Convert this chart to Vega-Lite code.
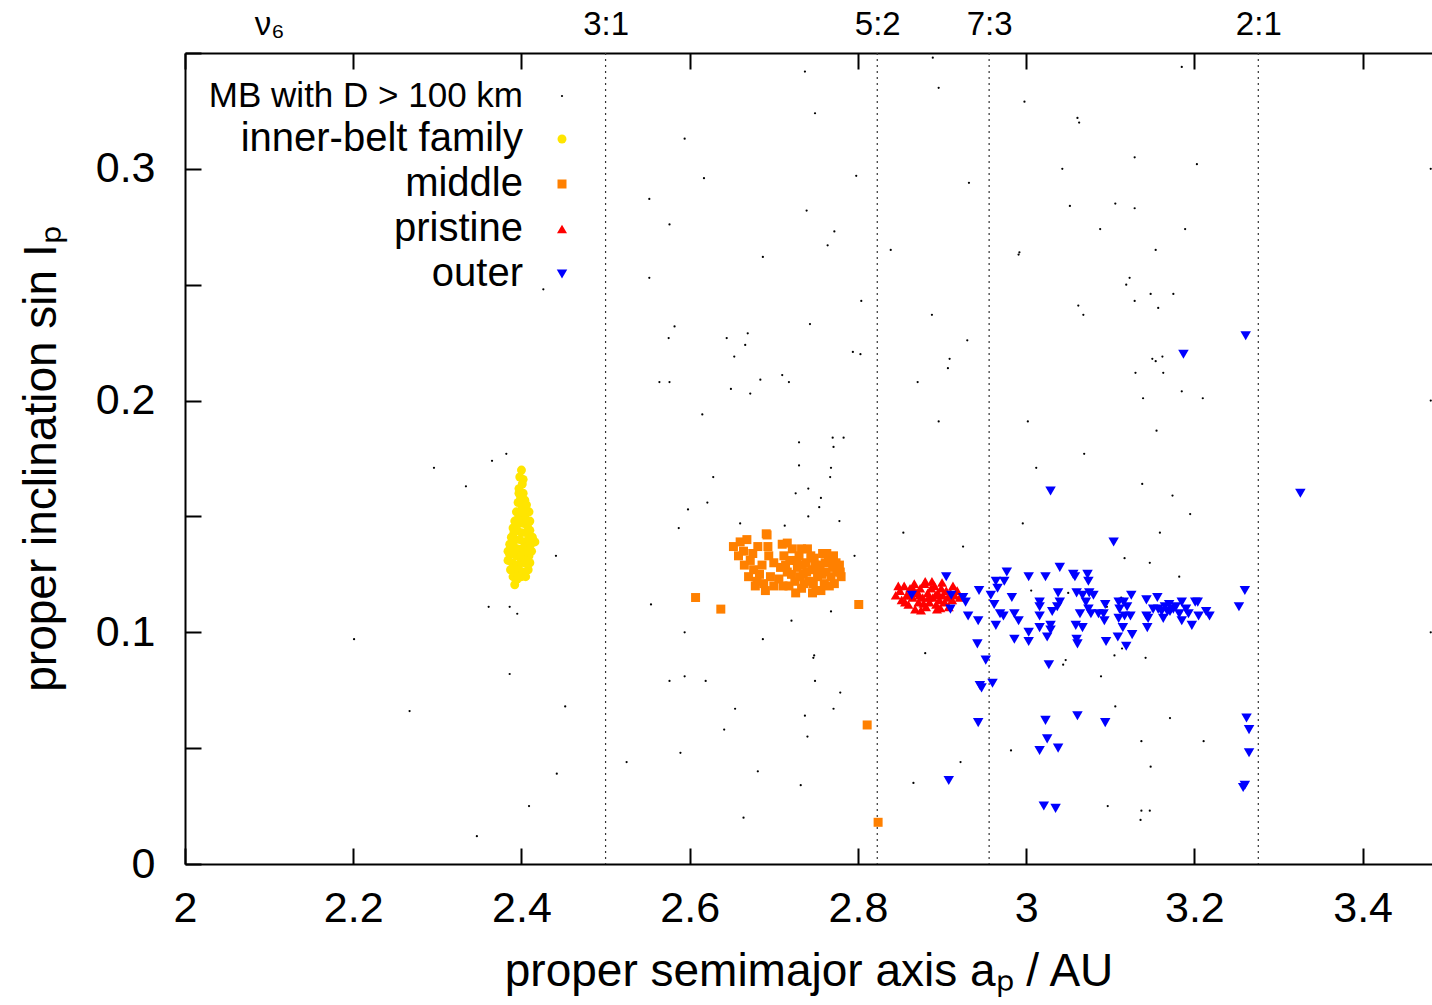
{
"$schema":"https://vega.github.io/schema/vega-lite/v6.json",
"width":1247,"height":811,
"autosize":{"type":"none"},
"padding":{"left":185,"top":53,"right":0,"bottom":141},
"background":"white",
"config":{"view":{"stroke":null},"font":"Liberation Sans",
 "axis":{"grid":false,"domainColor":"black","domainWidth":2,"tickColor":"black","tickWidth":2,"labelColor":"black","titleColor":"black","labelFont":"Liberation Sans","titleFont":"Liberation Sans","titleFontWeight":"normal"}},
"datasets":{
"res":[{"a":2.5},{"a":2.823},{"a":2.956},{"a":3.276}],
"pts":[
{"a":2.737,"s":0.342,"g":"MB"},{"a":2.749,"s":0.324,"g":"MB"},{"a":2.594,"s":0.313,"g":"MB"},{"a":2.617,"s":0.296,"g":"MB"},{"a":2.798,"s":0.297,"g":"MB"},{"a":2.552,"s":0.287,"g":"MB"},{"a":2.576,"s":0.276,"g":"MB"},{"a":2.739,"s":0.282,"g":"MB"},{"a":2.772,"s":0.273,"g":"MB"},{"a":2.764,"s":0.267,"g":"MB"},{"a":2.687,"s":0.262,"g":"MB"},{"a":2.552,"s":0.253,"g":"MB"},{"a":2.804,"s":0.243,"g":"MB"},{"a":2.582,"s":0.232,"g":"MB"},{"a":2.575,"s":0.227,"g":"MB"},{"a":2.743,"s":0.233,"g":"MB"},{"a":2.669,"s":0.229,"g":"MB"},{"a":2.644,"s":0.227,"g":"MB"},{"a":2.666,"s":0.224,"g":"MB"},{"a":2.653,"s":0.219,"g":"MB"},{"a":2.794,"s":0.221,"g":"MB"},{"a":2.803,"s":0.220,"g":"MB"},{"a":2.564,"s":0.208,"g":"MB"},{"a":2.576,"s":0.208,"g":"MB"},{"a":2.684,"s":0.209,"g":"MB"},{"a":2.710,"s":0.211,"g":"MB"},{"a":2.718,"s":0.208,"g":"MB"},{"a":2.649,"s":0.205,"g":"MB"},{"a":2.672,"s":0.203,"g":"MB"},{"a":2.615,"s":0.194,"g":"MB"},{"a":2.730,"s":0.182,"g":"MB"},{"a":2.770,"s":0.184,"g":"MB"},{"a":2.783,"s":0.184,"g":"MB"},{"a":2.771,"s":0.180,"g":"MB"},{"a":2.730,"s":0.172,"g":"MB"},{"a":2.768,"s":0.171,"g":"MB"},{"a":2.889,"s":0.348,"g":"MB"},{"a":2.896,"s":0.335,"g":"MB"},{"a":2.932,"s":0.294,"g":"MB"},{"a":2.839,"s":0.265,"g":"MB"},{"a":2.991,"s":0.263,"g":"MB"},{"a":2.888,"s":0.237,"g":"MB"},{"a":2.930,"s":0.226,"g":"MB"},{"a":2.909,"s":0.218,"g":"MB"},{"a":2.907,"s":0.214,"g":"MB"},{"a":2.871,"s":0.208,"g":"MB"},{"a":2.896,"s":0.191,"g":"MB"},
{"a":2.998,"s":0.329,"g":"MB"},{"a":3.061,"s":0.322,"g":"MB"},{"a":3.063,"s":0.320,"g":"MB"},{"a":3.129,"s":0.305,"g":"MB"},{"a":3.203,"s":0.302,"g":"MB"},{"a":3.043,"s":0.300,"g":"MB"},{"a":3.481,"s":0.300,"g":"MB"},{"a":3.052,"s":0.284,"g":"MB"},{"a":3.106,"s":0.285,"g":"MB"},{"a":3.129,"s":0.283,"g":"MB"},{"a":3.088,"s":0.274,"g":"MB"},{"a":3.189,"s":0.274,"g":"MB"},{"a":2.992,"s":0.264,"g":"MB"},{"a":3.154,"s":0.265,"g":"MB"},{"a":3.123,"s":0.253,"g":"MB"},{"a":3.119,"s":0.250,"g":"MB"},{"a":3.148,"s":0.246,"g":"MB"},{"a":3.175,"s":0.246,"g":"MB"},{"a":3.129,"s":0.243,"g":"MB"},{"a":3.157,"s":0.240,"g":"MB"},{"a":3.062,"s":0.241,"g":"MB"},{"a":3.068,"s":0.237,"g":"MB"},{"a":3.150,"s":0.218,"g":"MB"},{"a":3.154,"s":0.217,"g":"MB"},{"a":3.162,"s":0.219,"g":"MB"},{"a":3.130,"s":0.212,"g":"MB"},{"a":3.163,"s":0.212,"g":"MB"},{"a":3.185,"s":0.204,"g":"MB"},{"a":3.139,"s":0.201,"g":"MB"},{"a":3.210,"s":0.201,"g":"MB"},{"a":3.002,"s":0.191,"g":"MB"},{"a":3.155,"s":0.187,"g":"MB"},{"a":3.481,"s":0.200,"g":"MB"},{"a":3.069,"s":0.177,"g":"MB"},{"a":3.012,"s":0.171,"g":"MB"},{"a":3.185,"s":0.344,"g":"MB"},
{"a":2.426,"s":0.248,"g":"MB"},{"a":2.365,"s":0.174,"g":"MB"},{"a":2.382,"s":0.177,"g":"MB"},{"a":2.296,"s":0.171,"g":"MB"},
{"a":2.334,"s":0.163,"g":"MB"},{"a":2.441,"s":0.133,"g":"MB"},{"a":2.402,"s":0.123,"g":"MB"},{"a":2.361,"s":0.111,"g":"MB"},{"a":2.386,"s":0.111,"g":"MB"},{"a":2.395,"s":0.108,"g":"MB"},{"a":2.201,"s":0.097,"g":"MB"},{"a":2.386,"s":0.082,"g":"MB"},{"a":2.267,"s":0.066,"g":"MB"},{"a":2.452,"s":0.068,"g":"MB"},{"a":2.442,"s":0.039,"g":"MB"},{"a":2.409,"s":0.025,"g":"MB"},{"a":2.347,"s":0.012,"g":"MB"},{"a":2.525,"s":0.044,"g":"MB"},{"a":2.589,"s":0.048,"g":"MB"},{"a":2.576,"s":0.079,"g":"MB"},{"a":2.594,"s":0.081,"g":"MB"},{"a":2.619,"s":0.079,"g":"MB"},{"a":2.594,"s":0.100,"g":"MB"},{"a":2.554,"s":0.112,"g":"MB"},{"a":2.654,"s":0.067,"g":"MB"},{"a":2.641,"s":0.058,"g":"MB"},{"a":2.681,"s":0.040,"g":"MB"},{"a":2.664,"s":0.020,"g":"MB"},{"a":2.687,"s":0.097,"g":"MB"},{"a":2.721,"s":0.105,"g":"MB"},{"a":2.748,"s":0.090,"g":"MB"},{"a":2.747,"s":0.089,"g":"MB"},{"a":2.749,"s":0.079,"g":"MB"},{"a":2.779,"s":0.074,"g":"MB"},{"a":2.771,"s":0.067,"g":"MB"},{"a":2.737,"s":0.064,"g":"MB"},{"a":2.740,"s":0.055,"g":"MB"},{"a":2.732,"s":0.034,"g":"MB"},{"a":2.768,"s":0.109,"g":"MB"},{"a":2.767,"s":0.167,"g":"MB"},{"a":2.628,"s":0.167,"g":"MB"},{"a":2.726,"s":0.160,"g":"MB"},{"a":2.741,"s":0.162,"g":"MB"},{"a":2.756,"s":0.158,"g":"MB"},{"a":2.621,"s":0.156,"g":"MB"},{"a":2.598,"s":0.153,"g":"MB"},{"a":2.754,"s":0.154,"g":"MB"},{"a":2.741,"s":0.150,"g":"MB"},{"a":2.778,"s":0.148,"g":"MB"},{"a":2.587,"s":0.145,"g":"MB"},{"a":2.660,"s":0.147,"g":"MB"},{"a":2.713,"s":0.146,"g":"MB"},{"a":2.796,"s":0.133,"g":"MB"},
{"a":2.854,"s":0.143,"g":"MB"},{"a":2.925,"s":0.137,"g":"MB"},{"a":2.996,"s":0.147,"g":"MB"},{"a":3.159,"s":0.143,"g":"MB"},{"a":3.117,"s":0.132,"g":"MB"},{"a":3.147,"s":0.130,"g":"MB"},{"a":3.182,"s":0.124,"g":"MB"},{"a":3.006,"s":0.118,"g":"MB"},{"a":3.050,"s":0.117,"g":"MB"},{"a":3.096,"s":0.111,"g":"MB"},{"a":2.880,"s":0.091,"g":"MB"},{"a":3.047,"s":0.088,"g":"MB"},{"a":3.044,"s":0.086,"g":"MB"},{"a":3.105,"s":0.090,"g":"MB"},{"a":3.142,"s":0.089,"g":"MB"},{"a":3.089,"s":0.081,"g":"MB"},{"a":3.106,"s":0.068,"g":"MB"},{"a":3.171,"s":0.063,"g":"MB"},{"a":3.137,"s":0.053,"g":"MB"},{"a":3.211,"s":0.053,"g":"MB"},{"a":2.982,"s":0.049,"g":"MB"},{"a":2.922,"s":0.044,"g":"MB"},{"a":3.148,"s":0.042,"g":"MB"},{"a":2.866,"s":0.035,"g":"MB"},{"a":3.097,"s":0.025,"g":"MB"},{"a":3.137,"s":0.023,"g":"MB"},{"a":3.147,"s":0.023,"g":"MB"},{"a":3.136,"s":0.019,"g":"MB"},{"a":3.138,"s":0.164,"g":"MB"},{"a":3.174,"s":0.159,"g":"MB"},{"a":3.195,"s":0.151,"g":"MB"},{"a":3.113,"s":0.115,"g":"MB"},{"a":3.481,"s":0.100,"g":"MB"},{"a":3.114,"s":0.093,"g":"MB"},
{"a":2.400,"s":0.170,"g":"inner"},{"a":2.398,"s":0.167,"g":"inner"},{"a":2.401,"s":0.164,"g":"inner"},{"a":2.397,"s":0.162,"g":"inner"},{"a":2.402,"s":0.160,"g":"inner"},{"a":2.399,"s":0.158,"g":"inner"},{"a":2.404,"s":0.157,"g":"inner"},{"a":2.396,"s":0.156,"g":"inner"},{"a":2.401,"s":0.154,"g":"inner"},{"a":2.406,"s":0.155,"g":"inner"},{"a":2.394,"s":0.152,"g":"inner"},{"a":2.399,"s":0.151,"g":"inner"},{"a":2.404,"s":0.150,"g":"inner"},{"a":2.409,"s":0.152,"g":"inner"},{"a":2.392,"s":0.148,"g":"inner"},{"a":2.397,"s":0.147,"g":"inner"},{"a":2.402,"s":0.147,"g":"inner"},{"a":2.407,"s":0.146,"g":"inner"},{"a":2.410,"s":0.148,"g":"inner"},{"a":2.390,"s":0.145,"g":"inner"},{"a":2.395,"s":0.144,"g":"inner"},{"a":2.400,"s":0.143,"g":"inner"},{"a":2.405,"s":0.143,"g":"inner"},{"a":2.410,"s":0.144,"g":"inner"},{"a":2.388,"s":0.141,"g":"inner"},{"a":2.393,"s":0.140,"g":"inner"},{"a":2.398,"s":0.140,"g":"inner"},{"a":2.403,"s":0.139,"g":"inner"},{"a":2.408,"s":0.140,"g":"inner"},{"a":2.413,"s":0.141,"g":"inner"},{"a":2.386,"s":0.138,"g":"inner"},{"a":2.391,"s":0.137,"g":"inner"},{"a":2.396,"s":0.136,"g":"inner"},{"a":2.401,"s":0.136,"g":"inner"},{"a":2.406,"s":0.137,"g":"inner"},{"a":2.411,"s":0.138,"g":"inner"},{"a":2.416,"s":0.139,"g":"inner"},{"a":2.384,"s":0.135,"g":"inner"},{"a":2.389,"s":0.134,"g":"inner"},{"a":2.394,"s":0.133,"g":"inner"},{"a":2.399,"s":0.133,"g":"inner"},{"a":2.404,"s":0.134,"g":"inner"},{"a":2.409,"s":0.133,"g":"inner"},{"a":2.384,"s":0.131,"g":"inner"},{"a":2.389,"s":0.130,"g":"inner"},{"a":2.394,"s":0.129,"g":"inner"},{"a":2.399,"s":0.130,"g":"inner"},{"a":2.404,"s":0.130,"g":"inner"},{"a":2.410,"s":0.130,"g":"inner"},{"a":2.387,"s":0.127,"g":"inner"},{"a":2.392,"s":0.126,"g":"inner"},{"a":2.397,"s":0.127,"g":"inner"},{"a":2.402,"s":0.126,"g":"inner"},{"a":2.408,"s":0.127,"g":"inner"},{"a":2.390,"s":0.124,"g":"inner"},{"a":2.395,"s":0.123,"g":"inner"},{"a":2.400,"s":0.124,"g":"inner"},{"a":2.405,"s":0.124,"g":"inner"},{"a":2.392,"s":0.1205,"g":"inner"},{"a":2.397,"s":0.160,"g":"inner"},{"a":2.402,"s":0.166,"g":"inner"},{"a":2.396,"s":0.149,"g":"inner"},{"a":2.404,"s":0.153,"g":"inner"},{"a":2.391,"s":0.143,"g":"inner"},{"a":2.407,"s":0.131,"g":"inner"},{"a":2.386,"s":0.1335,"g":"inner"},{"a":2.412,"s":0.135,"g":"inner"},
{"a":2.652,"s":0.137,"g":"middle"},{"a":2.660,"s":0.139,"g":"middle"},{"a":2.668,"s":0.140,"g":"middle"},{"a":2.664,"s":0.135,"g":"middle"},{"a":2.658,"s":0.133,"g":"middle"},{"a":2.672,"s":0.131,"g":"middle"},{"a":2.665,"s":0.129,"g":"middle"},{"a":2.676,"s":0.127,"g":"middle"},{"a":2.683,"s":0.125,"g":"middle"},{"a":2.680,"s":0.122,"g":"middle"},{"a":2.688,"s":0.121,"g":"middle"},{"a":2.686,"s":0.129,"g":"middle"},{"a":2.692,"s":0.142,"g":"middle"},{"a":2.693,"s":0.137,"g":"middle"},{"a":2.694,"s":0.133,"g":"middle"},{"a":2.700,"s":0.130,"g":"middle"},{"a":2.696,"s":0.124,"g":"middle"},{"a":2.700,"s":0.120,"g":"middle"},{"a":2.690,"s":0.118,"g":"middle"},{"a":2.675,"s":0.134,"g":"middle"},{"a":2.681,"s":0.137,"g":"middle"},{"a":2.670,"s":0.124,"g":"middle"},{"a":2.678,"s":0.120,"g":"middle"},
{"a":2.710,"s":0.138,"g":"middle"},{"a":2.712,"s":0.133,"g":"middle"},{"a":2.708,"s":0.128,"g":"middle"},{"a":2.706,"s":0.123,"g":"middle"},{"a":2.711,"s":0.120,"g":"middle"},{"a":2.716,"s":0.126,"g":"middle"},{"a":2.719,"s":0.131,"g":"middle"},{"a":2.722,"s":0.136,"g":"middle"},{"a":2.725,"s":0.122,"g":"middle"},{"a":2.728,"s":0.128,"g":"middle"},{"a":2.730,"s":0.133,"g":"middle"},{"a":2.733,"s":0.119,"g":"middle"},{"a":2.735,"s":0.125,"g":"middle"},{"a":2.738,"s":0.130,"g":"middle"},{"a":2.740,"s":0.136,"g":"middle"},{"a":2.742,"s":0.122,"g":"middle"},{"a":2.745,"s":0.127,"g":"middle"},{"a":2.748,"s":0.132,"g":"middle"},{"a":2.750,"s":0.118,"g":"middle"},{"a":2.752,"s":0.124,"g":"middle"},{"a":2.755,"s":0.129,"g":"middle"},{"a":2.758,"s":0.134,"g":"middle"},{"a":2.760,"s":0.121,"g":"middle"},{"a":2.762,"s":0.126,"g":"middle"},{"a":2.765,"s":0.131,"g":"middle"},{"a":2.768,"s":0.124,"g":"middle"},{"a":2.770,"s":0.128,"g":"middle"},{"a":2.772,"s":0.121,"g":"middle"},{"a":2.775,"s":0.126,"g":"middle"},{"a":2.778,"s":0.129,"g":"middle"},{"a":2.780,"s":0.124,"g":"middle"},{"a":2.756,"s":0.118,"g":"middle"},{"a":2.746,"s":0.117,"g":"middle"},{"a":2.726,"s":0.117,"g":"middle"},{"a":2.718,"s":0.120,"g":"middle"},{"a":2.731,"s":0.124,"g":"middle"},{"a":2.739,"s":0.126,"g":"middle"},{"a":2.747,"s":0.121,"g":"middle"},{"a":2.753,"s":0.127,"g":"middle"},{"a":2.761,"s":0.130,"g":"middle"},{"a":2.744,"s":0.133,"g":"middle"},{"a":2.727,"s":0.131,"g":"middle"},{"a":2.714,"s":0.129,"g":"middle"},{"a":2.721,"s":0.125,"g":"middle"},{"a":2.734,"s":0.129,"g":"middle"},{"a":2.757,"s":0.125,"g":"middle"},{"a":2.766,"s":0.120,"g":"middle"},{"a":2.774,"s":0.130,"g":"middle"},{"a":2.736,"s":0.121,"g":"middle"},{"a":2.749,"s":0.129,"g":"middle"},{"a":2.763,"s":0.134,"g":"middle"},{"a":2.733,"s":0.136,"g":"middle"},{"a":2.771,"s":0.133,"g":"middle"},{"a":2.779,"s":0.126,"g":"middle"},{"a":2.691,"s":0.1425,"g":"middle"},{"a":2.716,"s":0.1385,"g":"middle"},
{"a":2.607,"s":0.115,"g":"middle"},{"a":2.637,"s":0.110,"g":"middle"},{"a":2.801,"s":0.112,"g":"middle"},{"a":2.811,"s":0.060,"g":"middle"},{"a":2.824,"s":0.018,"g":"middle"},
{"a":2.845,"s":0.116,"g":"pristine"},{"a":2.850,"s":0.118,"g":"pristine"},{"a":2.852,"s":0.114,"g":"pristine"},{"a":2.855,"s":0.120,"g":"pristine"},{"a":2.858,"s":0.116,"g":"pristine"},{"a":2.860,"s":0.112,"g":"pristine"},{"a":2.862,"s":0.119,"g":"pristine"},{"a":2.865,"s":0.115,"g":"pristine"},{"a":2.867,"s":0.121,"g":"pristine"},{"a":2.870,"s":0.117,"g":"pristine"},{"a":2.872,"s":0.113,"g":"pristine"},{"a":2.874,"s":0.119,"g":"pristine"},{"a":2.877,"s":0.115,"g":"pristine"},{"a":2.879,"s":0.121,"g":"pristine"},{"a":2.881,"s":0.111,"g":"pristine"},{"a":2.883,"s":0.117,"g":"pristine"},{"a":2.885,"s":0.113,"g":"pristine"},{"a":2.887,"s":0.119,"g":"pristine"},{"a":2.889,"s":0.115,"g":"pristine"},{"a":2.891,"s":0.120,"g":"pristine"},{"a":2.893,"s":0.112,"g":"pristine"},{"a":2.895,"s":0.117,"g":"pristine"},{"a":2.897,"s":0.114,"g":"pristine"},{"a":2.899,"s":0.119,"g":"pristine"},{"a":2.901,"s":0.116,"g":"pristine"},{"a":2.903,"s":0.113,"g":"pristine"},{"a":2.905,"s":0.118,"g":"pristine"},{"a":2.907,"s":0.115,"g":"pristine"},{"a":2.910,"s":0.117,"g":"pristine"},{"a":2.912,"s":0.114,"g":"pristine"},{"a":2.915,"s":0.116,"g":"pristine"},{"a":2.918,"s":0.118,"g":"pristine"},{"a":2.921,"s":0.115,"g":"pristine"},{"a":2.868,"s":0.110,"g":"pristine"},{"a":2.875,"s":0.1095,"g":"pristine"},{"a":2.880,"s":0.122,"g":"pristine"},{"a":2.862,"s":0.116,"g":"pristine"},{"a":2.856,"s":0.113,"g":"pristine"},{"a":2.848,"s":0.120,"g":"pristine"},{"a":2.894,"s":0.110,"g":"pristine"},{"a":2.888,"s":0.122,"g":"pristine"},{"a":2.900,"s":0.1215,"g":"pristine"},{"a":2.908,"s":0.111,"g":"pristine"},{"a":2.873,"s":0.116,"g":"pristine"},{"a":2.884,"s":0.115,"g":"pristine"},{"a":2.892,"s":0.116,"g":"pristine"},{"a":2.898,"s":0.1105,"g":"pristine"},{"a":2.913,"s":0.120,"g":"pristine"},{"a":2.866,"s":0.1185,"g":"pristine"},{"a":2.878,"s":0.1125,"g":"pristine"},
{"a":2.905,"s":0.124,"g":"outer"},{"a":2.864,"s":0.116,"g":"outer"},{"a":2.911,"s":0.116,"g":"outer"},{"a":2.910,"s":0.110,"g":"outer"},{"a":2.925,"s":0.115,"g":"outer"},{"a":2.928,"s":0.113,"g":"outer"},{"a":2.944,"s":0.118,"g":"outer"},{"a":2.931,"s":0.107,"g":"outer"},{"a":2.943,"s":0.105,"g":"outer"},{"a":2.958,"s":0.116,"g":"outer"},{"a":2.964,"s":0.122,"g":"outer"},{"a":2.966,"s":0.119,"g":"outer"},{"a":2.974,"s":0.122,"g":"outer"},{"a":2.977,"s":0.126,"g":"outer"},{"a":2.962,"s":0.112,"g":"outer"},{"a":2.969,"s":0.108,"g":"outer"},{"a":2.973,"s":0.107,"g":"outer"},{"a":2.964,"s":0.103,"g":"outer"},{"a":2.983,"s":0.115,"g":"outer"},{"a":2.986,"s":0.108,"g":"outer"},{"a":2.991,"s":0.105,"g":"outer"},{"a":3.003,"s":0.124,"g":"outer"},{"a":3.023,"s":0.124,"g":"outer"},{"a":3.040,"s":0.128,"g":"outer"},{"a":3.056,"s":0.125,"g":"outer"},{"a":3.058,"s":0.124,"g":"outer"},{"a":3.073,"s":0.125,"g":"outer"},{"a":3.074,"s":0.122,"g":"outer"},{"a":3.038,"s":0.117,"g":"outer"},{"a":3.040,"s":0.113,"g":"outer"},{"a":3.037,"s":0.111,"g":"outer"},{"a":3.016,"s":0.113,"g":"outer"},{"a":3.016,"s":0.111,"g":"outer"},{"a":3.031,"s":0.109,"g":"outer"},{"a":3.016,"s":0.107,"g":"outer"},{"a":3.016,"s":0.102,"g":"outer"},{"a":3.029,"s":0.103,"g":"outer"},{"a":3.029,"s":0.101,"g":"outer"},{"a":3.025,"s":0.098,"g":"outer"},{"a":3.003,"s":0.100,"g":"outer"},{"a":3.003,"s":0.096,"g":"outer"},{"a":2.986,"s":0.097,"g":"outer"},{"a":3.060,"s":0.117,"g":"outer"},{"a":3.067,"s":0.116,"g":"outer"},{"a":3.075,"s":0.117,"g":"outer"},{"a":3.080,"s":0.116,"g":"outer"},{"a":3.071,"s":0.113,"g":"outer"},{"a":3.064,"s":0.108,"g":"outer"},{"a":3.074,"s":0.110,"g":"outer"},{"a":3.077,"s":0.108,"g":"outer"},{"a":3.086,"s":0.108,"g":"outer"},{"a":3.092,"s":0.108,"g":"outer"},{"a":3.093,"s":0.105,"g":"outer"},{"a":3.094,"s":0.112,"g":"outer"},{"a":3.059,"s":0.103,"g":"outer"},{"a":3.067,"s":0.102,"g":"outer"},{"a":3.060,"s":0.097,"g":"outer"},{"a":3.061,"s":0.095,"g":"outer"},{"a":3.095,"s":0.096,"g":"outer"},{"a":3.110,"s":0.113,"g":"outer"},{"a":3.111,"s":0.110,"g":"outer"},{"a":3.116,"s":0.113,"g":"outer"},{"a":3.120,"s":0.111,"g":"outer"},{"a":3.110,"s":0.106,"g":"outer"},{"a":3.117,"s":0.107,"g":"outer"},{"a":3.124,"s":0.107,"g":"outer"},{"a":3.125,"s":0.116,"g":"outer"},{"a":3.115,"s":0.102,"g":"outer"},{"a":3.109,"s":0.098,"g":"outer"},{"a":3.126,"s":0.099,"g":"outer"},{"a":3.119,"s":0.094,"g":"outer"},{"a":3.143,"s":0.114,"g":"outer"},{"a":3.156,"s":0.115,"g":"outer"},{"a":3.143,"s":0.107,"g":"outer"},{"a":3.145,"s":0.106,"g":"outer"},{"a":3.144,"s":0.102,"g":"outer"},{"a":3.151,"s":0.110,"g":"outer"},{"a":3.157,"s":0.110,"g":"outer"},{"a":3.161,"s":0.109,"g":"outer"},{"a":3.163,"s":0.106,"g":"outer"},{"a":3.170,"s":0.112,"g":"outer"},{"a":3.171,"s":0.109,"g":"outer"},{"a":3.185,"s":0.113,"g":"outer"},{"a":3.182,"s":0.108,"g":"outer"},{"a":3.185,"s":0.105,"g":"outer"},{"a":3.193,"s":0.108,"g":"outer"},{"a":3.197,"s":0.103,"g":"outer"},{"a":3.201,"s":0.113,"g":"outer"},{"a":3.204,"s":0.113,"g":"outer"},{"a":3.205,"s":0.107,"g":"outer"},{"a":3.214,"s":0.109,"g":"outer"},{"a":3.218,"s":0.107,"g":"outer"},{"a":3.165,"s":0.111,"g":"outer"},{"a":3.175,"s":0.110,"g":"outer"},{"a":3.178,"s":0.111,"g":"outer"},{"a":3.168,"s":0.109,"g":"outer"},{"a":3.190,"s":0.110,"g":"outer"},{"a":3.260,"s":0.118,"g":"outer"},{"a":3.253,"s":0.111,"g":"outer"},{"a":3.104,"s":0.139,"g":"outer"},{"a":3.027,"s":0.086,"g":"outer"},{"a":2.952,"s":0.088,"g":"outer"},{"a":2.942,"s":0.095,"g":"outer"},{"a":2.945,"s":0.077,"g":"outer"},{"a":2.947,"s":0.076,"g":"outer"},{"a":2.960,"s":0.078,"g":"outer"},{"a":2.943,"s":0.061,"g":"outer"},{"a":3.023,"s":0.062,"g":"outer"},{"a":3.061,"s":0.064,"g":"outer"},{"a":3.094,"s":0.061,"g":"outer"},{"a":3.025,"s":0.054,"g":"outer"},{"a":3.038,"s":0.050,"g":"outer"},{"a":3.016,"s":0.049,"g":"outer"},{"a":2.908,"s":0.036,"g":"outer"},{"a":3.021,"s":0.025,"g":"outer"},{"a":3.035,"s":0.024,"g":"outer"},{"a":3.262,"s":0.063,"g":"outer"},{"a":3.265,"s":0.058,"g":"outer"},{"a":3.265,"s":0.048,"g":"outer"},{"a":3.260,"s":0.034,"g":"outer"},{"a":3.258,"s":0.033,"g":"outer"},{"a":3.261,"s":0.228,"g":"outer"},{"a":3.187,"s":0.220,"g":"outer"},{"a":3.326,"s":0.160,"g":"outer"},{"a":3.029,"s":0.161,"g":"outer"}
]},
"layer":[
{"data":{"name":"res"},
 "mark":{"type":"rule","strokeDash":[2,4],"color":"#333333","strokeWidth":1.2},
 "encoding":{"x":{"field":"a","type":"quantitative","scale":{"domain":[2,3.4825],"nice":false,"zero":false},
  "axis":{"orient":"top","title":null,"values":[2,2.1,2.2,2.4,2.5,2.6,2.8,2.823,2.956,3,3.2,3.276,3.4],
   "tickSize":-16,
   "tickColor":{"condition":{"test":"indexof([2.1,2.5,2.823,2.956,3.276], datum.value) >= 0","value":"transparent"},"value":"black"},
   "labelExpr":"datum.value == 2.1 ? 'ν₆' : datum.value == 2.5 ? '3:1' : datum.value == 2.823 ? '5:2' : datum.value == 2.956 ? '7:3' : datum.value == 3.276 ? '2:1' : ''",
   "labelFontSize":33,"labelPadding":28,"labelOverlap":false,"labelFlush":false,"labelBound":false}}}},
{"data":{"name":"pts"},
 "mark":{"type":"point","filled":true,"opacity":1,"strokeWidth":0},
 "encoding":{
  "x":{"field":"a","type":"quantitative","scale":{"domain":[2,3.4825],"nice":false,"zero":false},
   "axis":{"orient":"bottom","values":[2,2.2,2.4,2.6,2.8,3,3.2,3.4],"format":".1~f","tickSize":-16,"labelFontSize":43,"labelPadding":39,"labelFlush":false,"labelOverlap":false,"labelBound":false,
    "title":"proper semimajor axis aₚ / AU","titleFontSize":46,"titleY":121,"titleBaseline":"alphabetic"}},
  "y":{"field":"s","type":"quantitative","scale":{"domain":[0,0.35],"nice":false,"zero":false},
   "axis":{"values":[0,0.05,0.1,0.15,0.2,0.25,0.3,0.35],"tickSize":-16,"labelFontSize":43,"labelPadding":46,"labelOverlap":false,"labelFlush":false,"labelBound":false,
    "labelExpr":"abs(datum.value*10 - round(datum.value*10)) < 0.000001 ? (datum.value == 0 ? '0' : format(datum.value, '.1f')) : ''",
    "title":"proper inclination sin Iₚ","titleFontSize":46,"titleX":-130,"titleY":405.5,"titleAngle":270,"titleBaseline":"alphabetic","titleAlign":"center"}},
  "color":{"field":"g","type":"nominal","scale":{"domain":["MB","inner","middle","pristine","outer"],"range":["#000000","#ffe500","#ff8000","#ff0000","#0000ff"]},
   "legend":{"title":null,"orient":"none","legendX":357,"legendY":23,"direction":"vertical","labelAlign":"right","labelOffset":-59,"labelFontSize":{"expr":"datum.value === 'MB' ? 35 : 40"},"labelFont":"Liberation Sans","labelColor":"black","labelLimit":2000,"rowPadding":5,"padding":0,"symbolSize":55,"symbolStrokeWidth":0,
    "labelExpr":"datum.value == 'MB' ? 'MB with D > 100 km' : datum.value == 'inner' ? 'inner-belt family' : datum.value",
    "encode":{"symbols":{"update":{"size":{"signal":"datum.value === 'MB' ? 4 : 55"}}}}}},
  "shape":{"field":"g","type":"nominal","scale":{"domain":["MB","inner","middle","pristine","outer"],"range":["circle","circle","square","triangle-up","triangle-down"]},
   "legend":{"title":null,"orient":"none","legendX":357,"legendY":23,"direction":"vertical","labelAlign":"right","labelOffset":-59,"labelFontSize":{"expr":"datum.value === 'MB' ? 35 : 40"},"labelFont":"Liberation Sans","labelColor":"black","labelLimit":2000,"rowPadding":5,"padding":0,"symbolSize":55,"symbolStrokeWidth":0,
    "labelExpr":"datum.value == 'MB' ? 'MB with D > 100 km' : datum.value == 'inner' ? 'inner-belt family' : datum.value",
    "encode":{"symbols":{"update":{"size":{"signal":"datum.value === 'MB' ? 4 : 55"}}}}}},
  "size":{"field":"g","type":"nominal","scale":{"type":"ordinal","domain":["MB","inner","middle","pristine","outer"],"range":[5,80,81,100,110]},"legend":null}
 }}
],
"resolve":{"axis":{"x":"independent"}}
}
